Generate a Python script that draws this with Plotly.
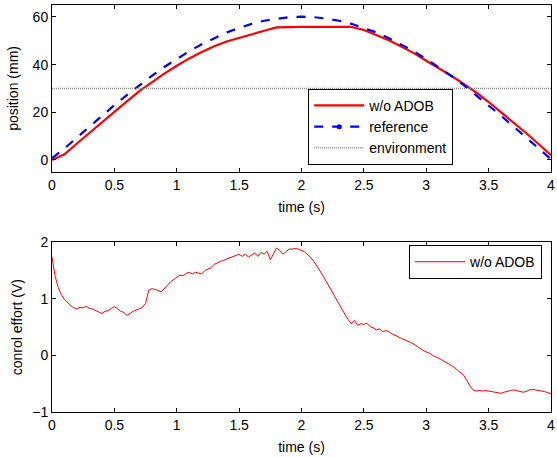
import plotly.graph_objects as go

# ---------------- data ----------------
t_pos = [round(i * 0.1, 1) for i in range(41)]

pos_wo_adob = [0.0, 2.4, 6.9, 11.4, 16.0, 20.4, 24.6, 28.9, 32.6, 36.2,
               39.5, 42.6, 45.3, 47.7, 49.7, 51.3, 52.8, 54.2, 55.6, 55.8,
               55.8, 55.8, 55.8, 55.8, 55.8, 54.5, 52.5, 50.2, 47.6, 44.8,
               41.6, 38.5, 35.3, 31.9, 28.3, 24.3, 20.1, 15.8, 11.3, 6.7,
               2.0]

pos_reference = [0.8, 4.8, 9.4, 14.0, 18.5, 23.0, 27.2, 31.4, 35.3, 39.0,
                 42.4, 45.6, 48.5, 51.1, 53.5, 55.4, 57.1, 58.4, 59.3, 59.9,
                 60.1, 59.9, 59.3, 58.4, 57.1, 55.4, 53.5, 51.1, 48.5, 45.6,
                 42.4, 39.0, 35.3, 31.4, 27.2, 23.0, 18.5, 14.0, 9.4, 4.7,
                 0.3]

environment_level = [30, 30]
env_t = [0, 4]

t_u = [round(i * 0.025, 3) for i in range(161)]
u_wo_adob = [
    1.74, 1.40, 1.20, 1.07, 0.99, 0.93, 0.88, 0.84,
    0.82, 0.85, 0.84, 0.87, 0.83, 0.82, 0.79, 0.77,
    0.74, 0.78, 0.79, 0.83, 0.86, 0.83, 0.78, 0.76,
    0.71, 0.74, 0.78, 0.80, 0.83, 0.85, 0.92, 1.15,
    1.18, 1.17, 1.15, 1.12, 1.19, 1.24, 1.30, 1.34,
    1.39, 1.42, 1.41, 1.45, 1.47, 1.44, 1.47, 1.45,
    1.44, 1.50, 1.52, 1.55, 1.61, 1.64, 1.66, 1.68,
    1.70, 1.72, 1.74, 1.77, 1.79, 1.75, 1.79, 1.74,
    1.78, 1.81, 1.75, 1.82, 1.79, 1.84, 1.69, 1.80,
    1.90, 1.86, 1.79, 1.83, 1.88, 1.88, 1.89, 1.88,
    1.86, 1.83, 1.78, 1.73, 1.66, 1.58, 1.49, 1.40,
    1.30, 1.20, 1.10, 1.01, 0.92, 0.82, 0.72, 0.63,
    0.56, 0.62, 0.53, 0.56, 0.55, 0.57, 0.51, 0.49,
    0.45, 0.47, 0.42, 0.44, 0.42, 0.38, 0.36, 0.33,
    0.30, 0.28, 0.25, 0.23, 0.20, 0.16, 0.13, 0.09,
    0.06, 0.04, 0.00, -0.02, -0.05, -0.08, -0.11, -0.14,
    -0.17, -0.21, -0.26, -0.30, -0.35, -0.44, -0.54, -0.61,
    -0.63, -0.62, -0.63, -0.62, -0.63, -0.64, -0.66, -0.67,
    -0.67, -0.65, -0.63, -0.62, -0.61, -0.62, -0.64, -0.65,
    -0.64, -0.61, -0.60, -0.61, -0.61, -0.63, -0.64, -0.66,
    -0.68,
]

FONT = "Liberation Sans, Arial, sans-serif"
FS = 14

fig = go.Figure()

# top plot
fig.add_trace(go.Scatter(x=t_pos, y=pos_wo_adob, mode="lines", name="w/o ADOB",
                         line=dict(color="#ff0000", width=2.2), xaxis="x", yaxis="y",
                         legend="legend"))
fig.add_trace(go.Scatter(x=t_pos, y=pos_reference, mode="lines", name="reference",
                         line=dict(color="#0000ff", width=2.2, dash="dash"),
                         xaxis="x", yaxis="y", showlegend=False, legend="legend"))
fig.add_trace(go.Scatter(x=[None], y=[None], mode="lines+markers", name="reference",
                         line=dict(color="#0000ff", width=2.2, dash="dash"),
                         marker=dict(color="#0000ff", size=5),
                         xaxis="x", yaxis="y", legend="legend"))
fig.add_trace(go.Scatter(x=env_t, y=environment_level, mode="lines", name="environment",
                         line=dict(color="#8a8a8a", width=1.5, dash="1px,1px"),
                         xaxis="x", yaxis="y", legend="legend"))

# bottom plot
fig.add_trace(go.Scatter(x=t_u, y=u_wo_adob, mode="lines", name="w/o ADOB",
                         line=dict(color="#ff0000", width=1), xaxis="x2", yaxis="y2",
                         legend="legend2"))

axis_common = dict(showline=True, linecolor="black", linewidth=1, mirror="ticks",
                   ticks="inside", ticklen=4, tickcolor="black", showgrid=False,
                   zeroline=False, automargin=False,
                   tickfont=dict(family=FONT, size=FS, color="black"))

fig.update_layout(
    width=557, height=457,
    margin=dict(l=52, r=6, t=5, b=45),
    paper_bgcolor="white", plot_bgcolor="white",
    font=dict(family=FONT, size=FS, color="black"),
    xaxis=dict(domain=[0, 1], range=[0, 4], dtick=0.5, tick0=0, anchor="y",
               title=dict(text="time (s)", standoff=10, font=dict(size=FS)), **axis_common),
    yaxis=dict(domain=[0.59, 1], range=[-5, 65], dtick=20, tick0=0, anchor="x",
               title=dict(text="position (mm)", standoff=10, font=dict(size=FS)), **axis_common),
    xaxis2=dict(domain=[0, 1], range=[0, 4], dtick=0.5, tick0=0, anchor="y2",
                title=dict(text="time (s)", standoff=10, font=dict(size=FS)), **axis_common),
    yaxis2=dict(domain=[0, 0.417], range=[-1, 2], dtick=1, tick0=0, anchor="x2",
                title=dict(text="conrol effort (V)", standoff=6, font=dict(size=FS)), **axis_common),
    legend=dict(x=0.804, y=0.794, xanchor="right", yanchor="top",
                bgcolor="white", bordercolor="black", borderwidth=1,
                font=dict(family=FONT, size=FS, color="black"),
                tracegroupgap=0, itemwidth=50),
    legend2=dict(x=0.982, y=0.41, xanchor="right", yanchor="top",
                 bgcolor="white", bordercolor="black", borderwidth=1,
                 font=dict(family=FONT, size=FS, color="black"), itemwidth=50),
    showlegend=True,
)

fig.write_html("out.html")
